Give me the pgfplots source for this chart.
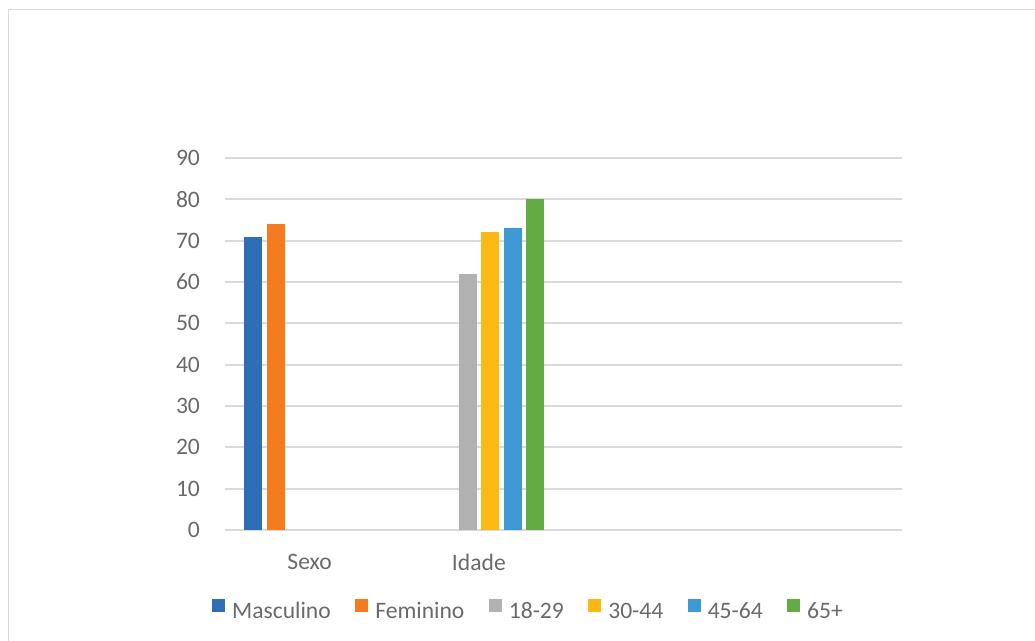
\documentclass[border=0pt]{standalone}
\usepackage{pgfplots}
\pgfplotsset{compat=1.18}
\usepackage{fontspec}
\setmainfont{Carlito}
\definecolor{cMasc}{HTML}{2E6EB6}
\definecolor{cFem}{HTML}{F47B20}
\definecolor{cA}{HTML}{B1B1B1}
\definecolor{cB}{HTML}{FDB913}
\definecolor{cC}{HTML}{3E98D4}
\definecolor{cD}{HTML}{63AB45}
\definecolor{txt}{HTML}{6A6A6A}
\definecolor{gridc}{HTML}{D9D9D9}
\begin{document}
\begin{tikzpicture}
\path[use as bounding box] (0,0) rectangle (517.5pt,320.5pt);
\draw[gridc, line width=0.75pt] (4.25pt,0) -- (4.25pt,315.75pt) -- (517.5pt,315.75pt);
\begin{axis}[
  at={(112.5pt,55.5pt)}, anchor=south west,
  width=338.5pt, height=186pt, scale only axis,
  xmin=-0.5, xmax=3.5, ymin=0, ymax=90,
  enlarge x limits=false, enlarge y limits=false,
  ytick={0,10,...,90},
  xtick={0,1}, xticklabels={Sexo,Idade},
  ybar=2.25pt, bar width=9pt,
  axis line style={draw=none},
  ymajorgrids, grid style={gridc, line width=1pt},
  major tick length=0pt,
  tick label style={font=\fontsize{11.8}{14}\selectfont, text=txt},
  /pgf/number format/assume math mode=true,
  yticklabel style={xshift=-9pt},
  xticklabel style={yshift=-8.5pt},
  legend columns=6,
  legend style={at={(0.4498,-0.2205)}, anchor=center, draw=none, fill=none,
    font=\fontsize{11.8}{14}\selectfont, text=txt,
    /tikz/every even column/.append style={column sep=10.2pt}},
  legend image code/.code={\fill[#1] (0pt,0pt) rectangle (6.5pt,6.7pt);\path (8pt,0pt);},
]
\addplot[fill=cMasc, draw=none] coordinates {(0,71)};
\addlegendentry{Masculino}
\addplot[fill=cFem, draw=none] coordinates {(0,74)};
\addlegendentry{Feminino}
\addplot[fill=cA, draw=none] coordinates {(1,62)};
\addlegendentry{18-29}
\addplot[fill=cB, draw=none] coordinates {(1,72)};
\addlegendentry{30-44}
\addplot[fill=cC, draw=none] coordinates {(1,73)};
\addlegendentry{45-64}
\addplot[fill=cD, draw=none] coordinates {(1,80)};
\addlegendentry{65+}
\end{axis}
\end{tikzpicture}
\end{document}
